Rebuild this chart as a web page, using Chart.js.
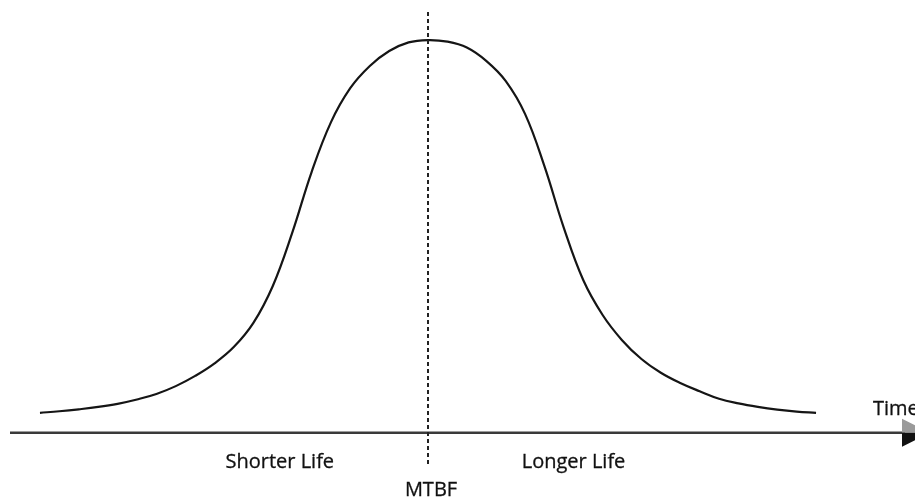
<!DOCTYPE html>
<html>
<head>
<meta charset="utf-8">
<script src="https://cdn.jsdelivr.net/npm/chart.js"></script>
<style>
  html, body { margin: 0; padding: 0; background: #fff; }
  #wrap { width: 915px; height: 502px; }
</style>
</head>
<body>
<div id="wrap"><canvas id="mtbfChart"></canvas></div>
<script>
// time relative to MTBF (arbitrary units, step 5) and failure density (% of peak)
const times = [-100, -95, -90, -85, -80, -75, -70, -65, -60, -55, -50, -45, -40, -35, -30, -25, -20, -15, -10, -5, 0,
               5, 10, 15, 20, 25, 30, 35, 40, 45, 50, 55, 60, 65, 70, 75, 80, 85, 90, 95, 100];
const density = [5.1, 5.5, 6.0, 6.6, 7.4, 8.5, 9.9, 11.9, 14.5, 17.7, 21.9, 28.0, 37.4, 50.9, 66.4, 79.1, 87.8, 93.4, 97.2, 99.4, 100,
                 99.6, 98.1, 94.7, 89.6, 81.2, 67.9, 52.2, 38.9, 30.0, 23.6, 18.8, 15.3, 12.7, 10.6, 8.7, 7.5, 6.6, 5.9, 5.4, 5.1];
const mtbf = 0;
const axisLabel = "Time";
const regionLabels = ["Shorter Life", "Longer Life"];
const mtbfLabel = "MTBF";

const FONT = "'Open Sans', 'DejaVu Sans', sans-serif";

// draws the time axis with arrow, MTBF dashed line and the labels
const decorations = {
  id: "decorations",
  afterDatasetsDraw(chart) {
    const ctx = chart.ctx;
    const x = chart.scales.x, y = chart.scales.y;
    const x0 = x.getPixelForValue(mtbf);
    const yAxis = y.getPixelForValue(0);

    ctx.save();
    // axis line
    ctx.strokeStyle = "#3a3a3a";
    ctx.lineWidth = 2.5;
    ctx.beginPath();
    ctx.moveTo(10, yAxis);
    ctx.lineTo(905, yAxis);
    ctx.stroke();

    // arrow head (two tones)
    ctx.fillStyle = "#9a9a9a";
    ctx.beginPath();
    ctx.moveTo(902, yAxis - 14);
    ctx.lineTo(930, yAxis);
    ctx.lineTo(902, yAxis);
    ctx.closePath();
    ctx.fill();
    ctx.fillStyle = "#111";
    ctx.beginPath();
    ctx.moveTo(902, yAxis);
    ctx.lineTo(930, yAxis);
    ctx.lineTo(902, yAxis + 14);
    ctx.closePath();
    ctx.fill();

    // MTBF dashed line
    ctx.strokeStyle = "#222";
    ctx.lineWidth = 2;
    ctx.setLineDash([4, 3]);
    ctx.beginPath();
    ctx.moveTo(x0, 12);
    ctx.lineTo(x0, 466);
    ctx.stroke();
    ctx.setLineDash([]);

    // labels
    ctx.fillStyle = "#111";
    ctx.strokeStyle = "#111";
    ctx.lineWidth = 0.3;
    ctx.font = "20px " + FONT;
    ctx.textBaseline = "middle";
    const label = (txt, px, py) => { ctx.fillText(txt, px, py); ctx.strokeText(txt, px, py); };
    ctx.textAlign = "left";
    label(axisLabel, 873, yAxis - 24);
    ctx.textAlign = "center";
    label(regionLabels[0], x.getPixelForValue(-38.2), 462);
    label(regionLabels[1], x.getPixelForValue(37.5), 462);
    label(mtbfLabel, x0 + 3, 490);
    ctx.restore();
  }
};

new Chart(document.getElementById("mtbfChart"), {
  type: "line",
  data: {
    datasets: [{
      data: times.map((t, i) => ({ x: t, y: density[i] })),
      borderColor: "#151515",
      borderWidth: 2.2,
      pointRadius: 0,
      fill: false,
      tension: 0.4
    }]
  },
  options: {
    responsive: true,
    maintainAspectRatio: false,
    animation: false,
    layout: { padding: 0 },
    plugins: {
      legend: { display: false },
      tooltip: { enabled: false },
      title: { display: false }
    },
    scales: {
      x: { type: "linear", display: false, min: -110.3, max: 125.5 },
      y: { display: false, min: -17.6, max: 110.2 }
    }
  },
  plugins: [decorations]
});
</script>
</body>
</html>
